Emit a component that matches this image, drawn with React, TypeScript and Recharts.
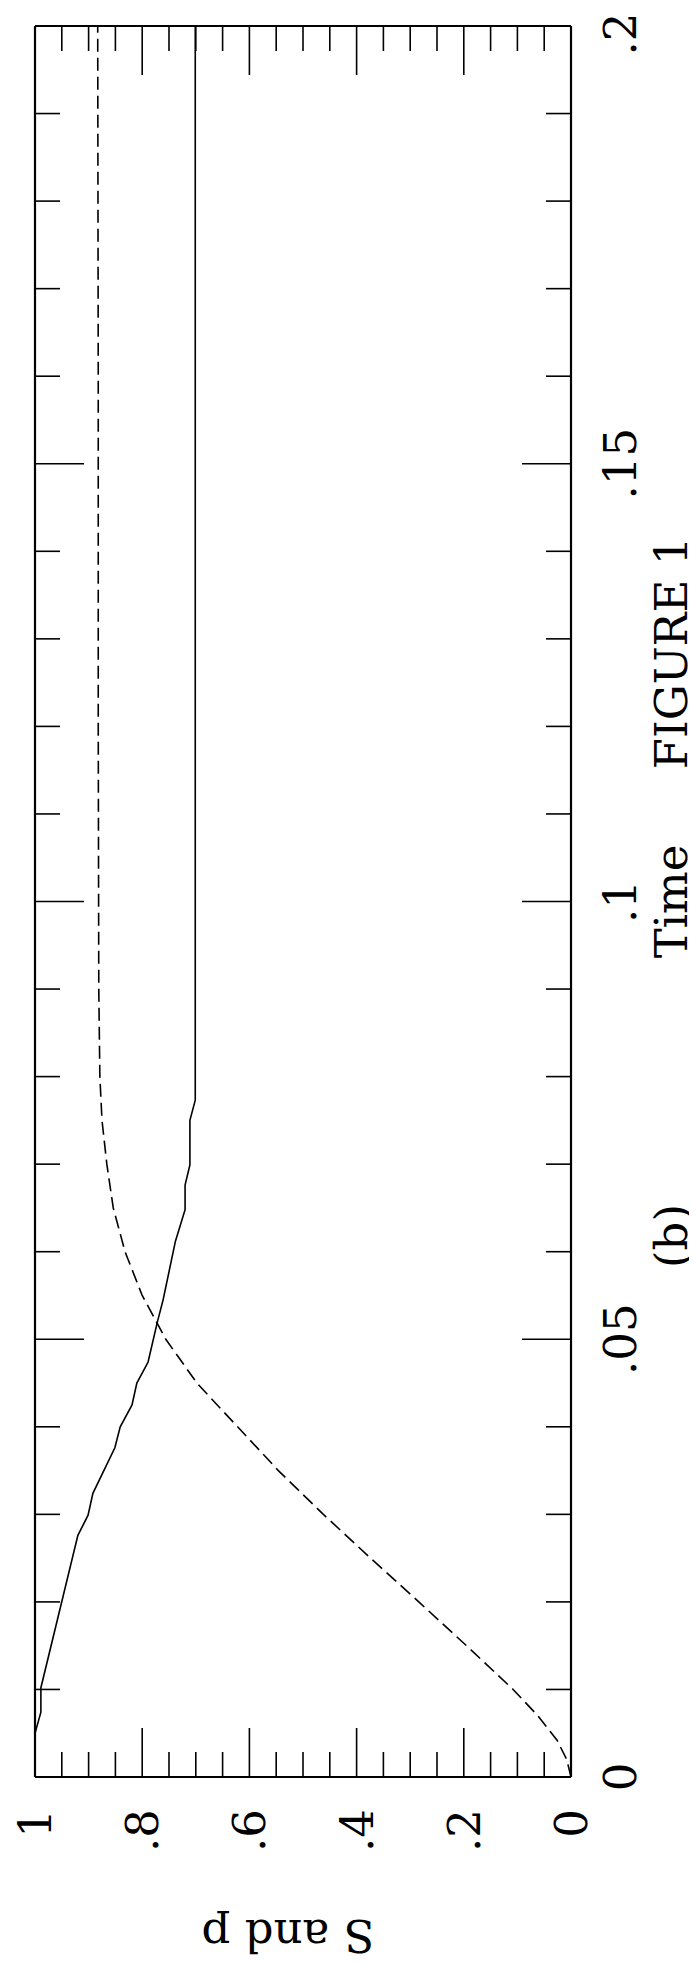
import { LineChart, Line, XAxis, YAxis } from 'recharts';

// time axis (drawn vertically, 0 at the bottom)
const timeTicks = [0, 0.01, 0.02, 0.03, 0.04, 0.05, 0.06, 0.07, 0.08, 0.09, 0.1, 0.11, 0.12, 0.13, 0.14, 0.15, 0.16, 0.17, 0.18, 0.19, 0.2];
const timeTickLabels = ['0', '', '', '', '', '.05', '', '', '', '', '.1', '', '', '', '', '.15', '', '', '', '', '.2'];

// S and p axis (drawn horizontally, reversed: 1 on the left)
const valueTicks = [0, 0.05, 0.1, 0.15, 0.2, 0.25, 0.3, 0.35, 0.4, 0.45, 0.5, 0.55, 0.6, 0.65, 0.7, 0.75, 0.8, 0.85, 0.9, 0.95, 1];
const valueTickLabels = ['0', '', '', '', '.2', '', '', '', '.4', '', '', '', '.6', '', '', '', '.8', '', '', '', '1'];

// solid curve: S
const sTime = [0, 0.005, 0.0074, 0.0102, 0.0276, 0.0299, 0.0324, 0.0376, 0.04, 0.0425, 0.045, 0.0474, 0.0519, 0.0545, 0.0612, 0.0648, 0.0676, 0.0699, 0.075, 0.0773, 0.2];
const sValue = [1, 1, 0.989, 0.989, 0.92, 0.901, 0.892, 0.851, 0.841, 0.819, 0.81, 0.789, 0.772, 0.761, 0.738, 0.72, 0.72, 0.711, 0.711, 0.701, 0.701];

// dashed curve: p
const pTime = [0, 0.002, 0.0042, 0.007, 0.01, 0.015, 0.02, 0.025, 0.03, 0.035, 0.04, 0.045, 0.05, 0.055, 0.06, 0.065, 0.07, 0.075, 0.08, 0.09, 0.12, 0.16, 0.2];
const pValue = [0, 0.008, 0.026, 0.062, 0.108, 0.195, 0.284, 0.374, 0.462, 0.546, 0.622, 0.698, 0.756, 0.8, 0.832, 0.854, 0.866, 0.875, 0.879, 0.881, 0.882, 0.882, 0.883];

const solidData = sTime.map((t, i) => ({ t, v: sValue[i] }));
const dashedData = pTime.map((t, i) => ({ t, v: pValue[i] }));

const FONT = '"DejaVu Serif", serif';
const FS = 45;
const MAJOR = 49;
const MINOR = 25;

const W = 689;
const H = 1957;
// plot area: x 27..563, y 18..1769 (svg coords); axes take 1px each
const M = { top: 17, left: 26, right: 125, bottom: 187 };

const frame = { stroke: '#000', strokeWidth: 2.2 };

function RightTick(props: any) {
  const { x, y, index } = props;
  const label = timeTickLabels[index];
  const len = label ? MAJOR : MINOR;
  return (
    <g>
      <line x1={x - len} x2={x} y1={y} y2={y} stroke="#000" strokeWidth={1.6} />
      {label && (
        <text transform={`translate(${x + 65},${Math.max(y, 26)}) rotate(-90)`} textAnchor="middle" fontFamily={FONT} fontSize={FS} fill="#000">
          {label}
        </text>
      )}
    </g>
  );
}

function LeftTick(props: any) {
  const { x, y, index } = props;
  const len = timeTickLabels[index] ? MAJOR : MINOR;
  return <line x1={x} x2={x + len} y1={y} y2={y} stroke="#000" strokeWidth={1.6} />;
}

function BottomTick(props: any) {
  const { x, y, index } = props;
  const label = valueTickLabels[index];
  const len = label ? MAJOR : MINOR;
  return (
    <g>
      <line x1={x} x2={x} y1={y - len} y2={y} stroke="#000" strokeWidth={1.6} />
      {label && (
        <text transform={`translate(${x + 16},${y + 32}) rotate(-90)`} textAnchor="end" fontFamily={FONT} fontSize={FS} fill="#000">
          {label}
        </text>
      )}
    </g>
  );
}

function TopTick(props: any) {
  const { x, y, index } = props;
  const len = valueTickLabels[index] ? MAJOR : MINOR;
  return <line x1={x} x2={x} y1={y} y2={y + len} stroke="#000" strokeWidth={1.6} />;
}

export default function App() {
  const plotMidY = 18 + (1769 - 18) / 2;
  return (
    <div style={{ position: 'relative', width: W, height: H }}>
      <LineChart width={W} height={H} layout="vertical" margin={M}>
        <XAxis xAxisId="b" type="number" orientation="bottom" domain={[0, 1]} reversed ticks={valueTicks} interval={0}
          height={1} tickSize={0} tickMargin={0} tickLine={false} axisLine={frame} tick={<BottomTick />} allowDataOverflow />
        <XAxis xAxisId="t" type="number" orientation="top" domain={[0, 1]} reversed ticks={valueTicks} interval={0}
          height={1} tickSize={0} tickMargin={0} tickLine={false} axisLine={frame} tick={<TopTick />} allowDataOverflow />
        <YAxis yAxisId="r" type="number" dataKey="t" orientation="right" domain={[0, 0.2]} reversed ticks={timeTicks} interval={0}
          width={1} tickSize={0} tickMargin={0} tickLine={false} axisLine={frame} tick={<RightTick />} allowDataOverflow />
        <YAxis yAxisId="l" type="number" dataKey="t" orientation="left" domain={[0, 0.2]} reversed ticks={timeTicks} interval={0}
          width={1} tickSize={0} tickMargin={0} tickLine={false} axisLine={frame} tick={<LeftTick />} allowDataOverflow />
        <Line xAxisId="b" yAxisId="r" data={solidData} dataKey="v" type="linear" stroke="#000" strokeWidth={1.6}
          dot={false} activeDot={false} isAnimationActive={false} />
        <Line xAxisId="b" yAxisId="r" data={dashedData} dataKey="v" type="linear" stroke="#000" strokeWidth={1.6}
          strokeDasharray="13 6" dot={false} activeDot={false} isAnimationActive={false} />
      </LineChart>
      <svg width={W} height={H} style={{ position: 'absolute', left: 0, top: 0, pointerEvents: 'none' }}>
        <text transform={`translate(679,${plotMidY}) rotate(-90)`} textAnchor="middle" fontFamily={FONT} fontSize={FS}>Time</text>
        <text transform="translate(679,645) rotate(-90)" textAnchor="middle" fontFamily={FONT} fontSize={FS}>FIGURE 1</text>
        <text transform="translate(679,1228) rotate(-90)" textAnchor="middle" fontFamily={FONT} fontSize={FS}>(b)</text>
        <text transform="translate(280,1912) rotate(180)" textAnchor="middle" fontFamily={FONT} fontSize={FS}>S and p</text>
      </svg>
    </div>
  );
}
